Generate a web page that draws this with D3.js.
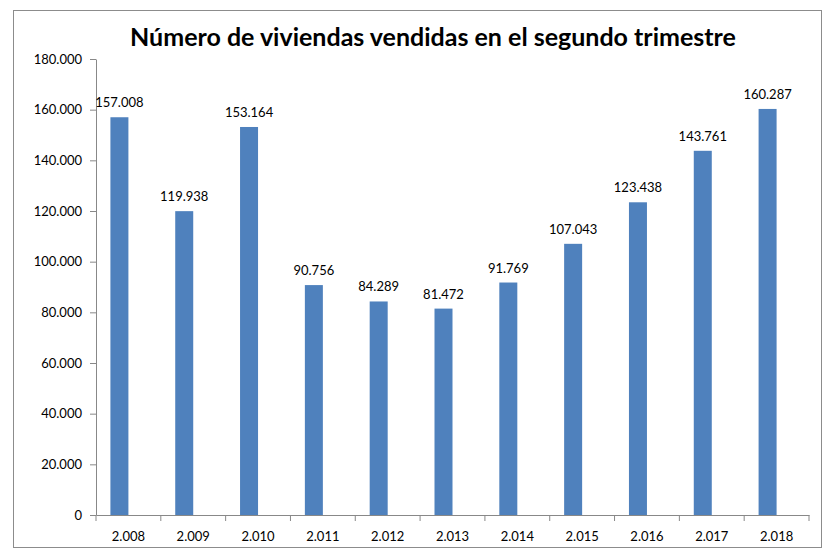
<!DOCTYPE html>
<html><head><meta charset="utf-8">
<script src="https://cdn.jsdelivr.net/npm/d3@7"></script>
<style>
body{margin:0;background:#fff;}
text{font-family:Lato,"Open Sans",sans-serif;}
</style></head>
<body><svg id="c" width="831" height="550"></svg>
<script>
const categories = ["2.008","2.009","2.010","2.011","2.012","2.013","2.014","2.015","2.016","2.017","2.018"];
const values = [157008,119938,153164,90756,84289,81472,91769,107043,123438,143761,160287];
const valueLabels = ["157.008","119.938","153.164","90.756","84.289","81.472","91.769","107.043","123.438","143.761","160.287"];
const yTicks = [0,20000,40000,60000,80000,100000,120000,140000,160000,180000];
const yTickLabels = ["0","20.000","40.000","60.000","80.000","100.000","120.000","140.000","160.000","180.000"];
const title = "Número de viviendas vendidas en el segundo trimestre";

const svg = d3.select("#c");
svg.append("rect").attr("x",13.5).attr("y",10.5).attr("width",808).attr("height",537)
  .attr("fill","#fff").attr("stroke","#8c8c8c").attr("stroke-width",1);

const x = d3.scaleBand().domain(categories).range([96,809]).padding(0);
const y = d3.scaleLinear().domain([0,180000]).range([515,59]);

svg.append("text").attr("x",433).attr("y",46).attr("text-anchor","middle")
  .attr("font-size",25).attr("font-weight","bold").attr("fill","#000").text(title);

const gy = svg.append("g").attr("transform","translate(96,0)")
  .call(d3.axisLeft(y).tickValues(yTicks).tickFormat((d,i)=>yTickLabels[i]).tickSize(6).tickSizeOuter(0));
gy.select(".domain").attr("stroke","#888");
gy.selectAll(".tick line").attr("stroke","#888");
gy.selectAll(".tick text").attr("font-size",13).attr("fill","#000").attr("x",-14)
  .style("font-family","Lato,'Open Sans',sans-serif");

const gx = svg.append("g").attr("transform","translate(0,515)")
  .call(d3.axisBottom(x).tickSize(0).tickSizeOuter(0));
gx.select(".domain").attr("stroke","#888");
gx.selectAll(".tick text").attr("font-size",13).attr("fill","#000").attr("dy","0").attr("y",26)
  .style("font-family","Lato,'Open Sans',sans-serif");
// category separator ticks
const bounds = categories.map(c=>x(c)).concat([x.range()[1]]);
svg.append("g").selectAll("line").data(bounds).join("line")
  .attr("x1",d=>d).attr("x2",d=>d).attr("y1",515).attr("y2",521).attr("stroke","#888");

const bw = 18, off = -9;
svg.append("g").selectAll("rect").data(values).join("rect")
  .attr("x",(d,i)=>x(categories[i])+x.bandwidth()/2+off-bw/2)
  .attr("y",d=>y(d)).attr("width",bw).attr("height",d=>515-y(d))
  .attr("fill","#4F81BD");

svg.append("g").selectAll("text").data(values).join("text")
  .attr("x",(d,i)=>x(categories[i])+x.bandwidth()/2+off)
  .attr("y",d=>y(d)-10).attr("text-anchor","middle").attr("font-size",13).attr("fill","#000")
  .text((d,i)=>valueLabels[i]);
</script></body></html>
